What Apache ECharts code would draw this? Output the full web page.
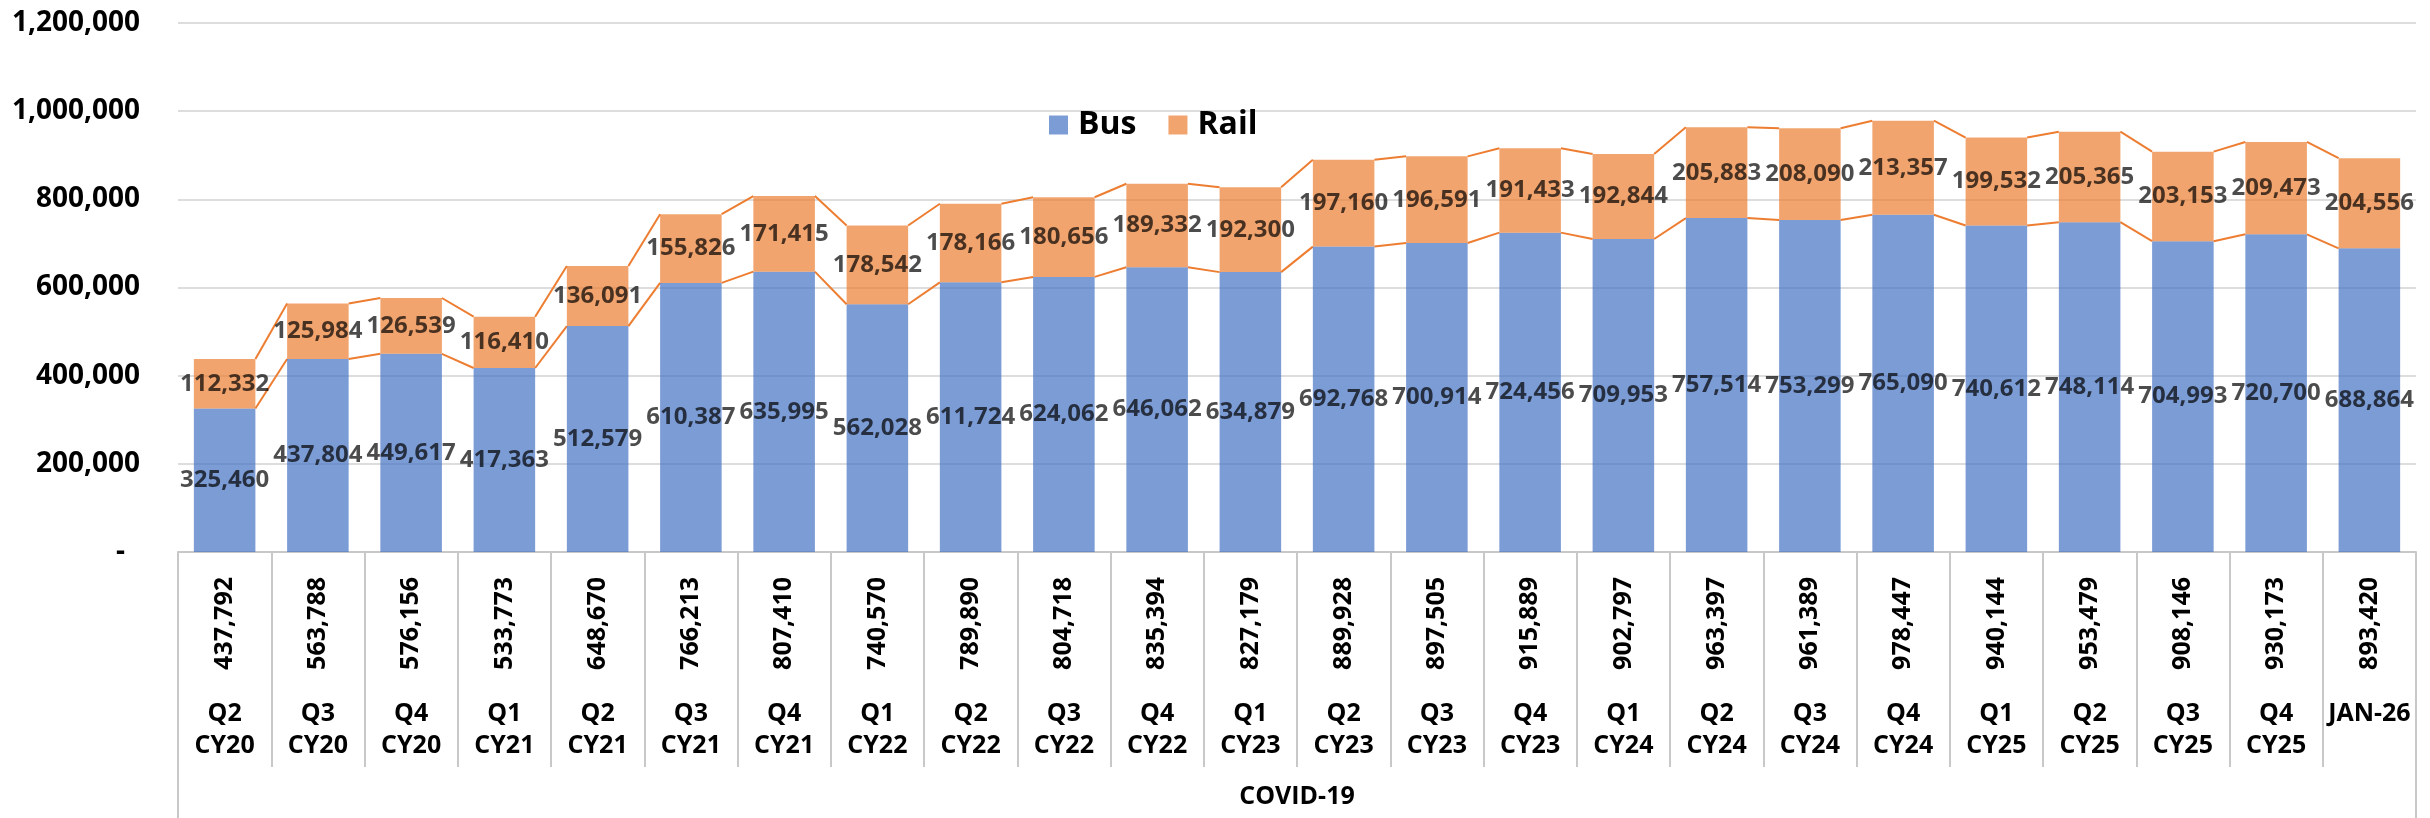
<!DOCTYPE html>
<html>
<head>
<meta charset="utf-8">
<script src="https://cdn.jsdelivr.net/npm/echarts@6/dist/echarts.min.js"></script>
<style>
html,body{margin:0;padding:0;background:#fff;}
#chart{width:2430px;height:818px;}
</style>
</head>
<body>
<div id="chart"></div>
<script>
const periods = ['Q2\nCY20','Q3\nCY20','Q4\nCY20','Q1\nCY21','Q2\nCY21','Q3\nCY21','Q4\nCY21','Q1\nCY22','Q2\nCY22','Q3\nCY22','Q4\nCY22','Q1\nCY23','Q2\nCY23','Q3\nCY23','Q4\nCY23','Q1\nCY24','Q2\nCY24','Q3\nCY24','Q4\nCY24','Q1\nCY25','Q2\nCY25','Q3\nCY25','Q4\nCY25','JAN-26'];
const bus = [325460,437804,449617,417363,512579,610387,635995,562028,611724,624062,646062,634879,692768,700914,724456,709953,757514,753299,765090,740612,748114,704993,720700,688864];
const rail = [112332,125984,126539,116410,136091,155826,171415,178542,178166,180656,189332,192300,197160,196591,191433,192844,205883,208090,213357,199532,205365,203153,209473,204556];
const totals = [437792,563788,576156,533773,648670,766213,807410,740570,789890,804718,835394,827179,889928,897505,915889,902797,963397,961389,978447,940144,953479,908146,930173,893420];
const groupLabels = ['COVID-19'];
const yTicks = [0,200000,400000,600000,800000,1000000,1200000];

const FONT = '"Open Sans"';
const fmt = v => Number(v).toLocaleString('en-US');
const totalLabels = totals.map(fmt);
const BAR_FRAC = 0.66;

const seriesLineData = [];
for (let i = 0; i < bus.length - 1; i++) {
  seriesLineData.push([i, bus[i], bus[i+1], bus[i]+rail[i], bus[i+1]+rail[i+1]]);
}

const chart = echarts.init(document.getElementById('chart'), null, {renderer:'canvas'});
const gray = '#C8C8C8';
const lbl = {fontFamily: FONT, fontWeight: 'bold', fontSize: 25, color: '#000'};
const dataLbl = {fontFamily: FONT, fontWeight: 'bold', fontSize: 24, color: '#000'};
const option = {
  animation: false,
  textStyle: {fontFamily: FONT},
  legend: {
    data: ['Bus','Rail'],
    left: 1049, top: 109, padding: 0,
    itemWidth: 19, itemHeight: 19, itemGap: 32,
    icon: 'rect',
    textStyle: {fontFamily: FONT, fontWeight: 'bold', fontSize: 32, color: '#000', padding: [0,0,0,5]}
  },
  grid: {left: 178, right: 14, top: 23, bottom: 266, containLabel: false},
  xAxis: [
    {
      type: 'category', data: totalLabels, gridIndex: 0, position: 'bottom',
      axisLine: {show: true, lineStyle: {color: gray, width: 2}},
      axisTick: {show: true, length: 215, interval: 0, lineStyle: {color: gray, width: 2}},
      axisLabel: Object.assign({interval: 0, rotate: 90, margin: 25}, lbl),
      splitLine: {show: false}
    },
    {
      type: 'category', data: periods, gridIndex: 0, position: 'bottom',
      axisLine: {show: false}, axisTick: {show: false},
      axisLabel: Object.assign({interval: 0, margin: 146, lineHeight: 32, verticalAlign: 'top'}, lbl),
      splitLine: {show: false}
    },
    {
      type: 'category', data: groupLabels, gridIndex: 0, position: 'bottom',
      axisLine: {show: false},
      axisTick: {show: true, length: 266, lineStyle: {color: gray, width: 2}},
      axisLabel: Object.assign({margin: 232, verticalAlign: 'top'}, lbl),
      splitLine: {show: false}
    }
  ],
  yAxis: {
    type: 'value', min: yTicks[0], max: yTicks[yTicks.length-1], interval: yTicks[1]-yTicks[0],
    axisLine: {show: false}, axisTick: {show: false},
    splitLine: {show: true, lineStyle: {color: '#DDDDDD', width: 2}},
    axisLabel: {
      margin: 38, fontFamily: FONT, fontWeight: 'bold', fontSize: 28, color: '#000',
      formatter: v => v === 0 ? '{d|-}' : fmt(v),
      rich: {d: {fontFamily: FONT, fontWeight: 'bold', fontSize: 28, color: '#000', padding: [0,15,0,0]}}
    }
  },
  series: [
    {
      name: 'Bus', type: 'bar', stack: 'total', xAxisIndex: 0, data: bus,
      barWidth: (BAR_FRAC*100)+'%',
      itemStyle: {color: '#4472C4', opacity: 0.7},
      label: Object.assign({show: true, position: 'inside', formatter: p => fmt(p.value)}, dataLbl)
    },
    {
      name: 'Rail', type: 'bar', stack: 'total', xAxisIndex: 0, data: rail,
      barWidth: (BAR_FRAC*100)+'%',
      itemStyle: {color: '#ED7D31', opacity: 0.7},
      label: Object.assign({show: true, position: 'inside', formatter: p => fmt(p.value)}, dataLbl)
    },
    {
      name: 'seriesLines', type: 'custom', xAxisIndex: 0, yAxisIndex: 0, silent: true,
      data: seriesLineData,
      encode: {x: 0, y: [1,2,3,4]},
      renderItem: function(params, api) {
        const i = api.value(0);
        const band = api.size([1, 0])[0];
        const half = band * BAR_FRAC / 2;
        const a1 = api.coord([i, api.value(1)]);
        const a2 = api.coord([i + 1, api.value(2)]);
        const b1 = api.coord([i, api.value(3)]);
        const b2 = api.coord([i + 1, api.value(4)]);
        const st = {stroke: '#ED7D31', lineWidth: 2};
        return {type: 'group', children: [
          {type: 'line', shape: {x1: a1[0]+half, y1: a1[1], x2: a2[0]-half, y2: a2[1]}, style: st},
          {type: 'line', shape: {x1: b1[0]+half, y1: b1[1], x2: b2[0]-half, y2: b2[1]}, style: st}
        ]};
      }
    }
  ]
};
chart.setOption(option);
</script>
</body>
</html>
